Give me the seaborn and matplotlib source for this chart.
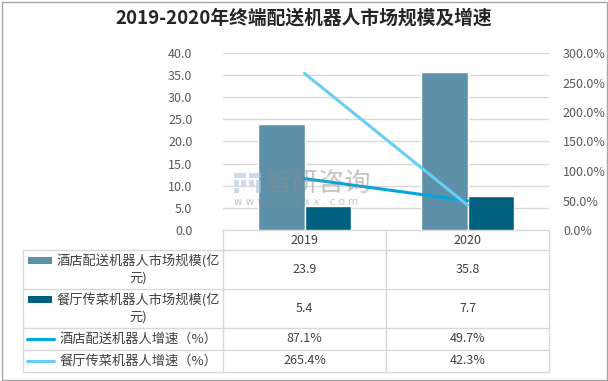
import numpy as np
import pandas as pd
import matplotlib
matplotlib.use("Agg")
import matplotlib.pyplot as plt
from matplotlib.patches import Rectangle
from matplotlib.lines import Line2D
import seaborn as sns

# data
years = ["2019", "2020"]
bar_names = ["酒店配送机器人市场规模(亿元)", "餐厅传菜机器人市场规模(亿元)"]
hotel_size = [23.9, 35.8]
restaurant_size = [5.4, 7.7]
line_names = ["酒店配送机器人增速（%）", "餐厅传菜机器人增速（%）"]
hotel_growth = [87.1, 49.7]
restaurant_growth = [265.4, 42.3]

bar_colors = ["#5E91A9", "#00607F"]
line_colors = ["#00A6E0", "#6ACDF4"]
grid_color = "#D9D9D9"
text_color = "#404040"
tick_color = "#595959"

sns.set_style("white")
plt.rcParams['font.family'] = ['Noto Sans CJK SC', 'DejaVu Sans']

W, H = 608, 381
fig = plt.figure(figsize=(W / 100, H / 100), dpi=100)

# plot area in pixels
left, right, top, bottom = 223, 549, 53, 230
ax = fig.add_axes([left / W, 1 - bottom / H, (right - left) / W, (bottom - top) / H])

df = pd.DataFrame({
    "year": years * 2,
    "series": [bar_names[0]] * 2 + [bar_names[1]] * 2,
    "value": hotel_size + restaurant_size,
})
sns.barplot(data=df, x="year", y="value", hue="series", palette=bar_colors,
            width=0.57, gap=0, saturation=1, legend=False, ax=ax, zorder=2)

ax.set_ylim(0, 40)
ax.set_yticks(np.arange(0, 40.1, 5))
ax.set_yticklabels([f"{v:.1f}" for v in np.arange(0, 40.1, 5)])
ax.set_xlim(-0.5, len(years) - 0.5)
ax.set_xticks([])
ax.set_xlabel("")
ax.set_ylabel("")
ax.grid(axis="y", color=grid_color, linewidth=1, zorder=0)
ax.set_axisbelow(True)
for s in ax.spines.values():
    s.set_visible(False)
ax.tick_params(axis="y", length=0, pad=22, labelsize=9, labelcolor=tick_color)

ax2 = ax.twinx()
x_pos = np.arange(len(years))
ax2.plot(x_pos, np.array(hotel_growth) / 100, color=line_colors[0], lw=2.2,
         solid_capstyle="round", zorder=3)
ax2.plot(x_pos, np.array(restaurant_growth) / 100, color=line_colors[1], lw=2.2,
         solid_capstyle="round", zorder=3)
ax2.set_ylim(0, 3.0)
ax2.set_yticks(np.arange(0, 3.01, 0.5))
ax2.set_yticklabels([f"{v * 100:.1f}%" for v in np.arange(0, 3.01, 0.5)])
for s in ax2.spines.values():
    s.set_visible(False)
ax2.tick_params(axis="y", length=0, pad=10, labelsize=9, labelcolor=tick_color)

# watermark (logo blocks + text)
for (bx, by, bw, bh) in [(234, 173, 12, 5), (234, 180, 5, 6), (241, 180, 5, 6),
                         (249, 173, 12, 5), (249, 180, 5, 6), (256, 180, 5, 13),
                         (234, 188, 5, 5)]:
    fig.add_artist(Rectangle((bx / W, 1 - (by + bh) / H), bw / W, bh / H,
                             transform=fig.transFigure, color="#A9C4E0",
                             alpha=0.6, lw=0, zorder=10))
fig.text(266 / W, 1 - 183 / H, "智研咨询", ha="left", va="center", fontsize=19,
         color="#8C8C8C", alpha=0.5, zorder=10)
fig.text(234 / W, 1 - 202 / H, "w w w . c h y x x . c o m", ha="left", va="center",
         fontsize=7.5, color="#8C8C8C", alpha=0.5, zorder=10, family="DejaVu Sans")

# data table drawn in pixel space
tab = fig.add_axes([0, 0, 1, 1], zorder=-1)
tab.set_xlim(0, W)
tab.set_ylim(H, 0)
tab.axis("off")

cols = [23, 223, 386, 549]
rows = [230, 250, 289, 328, 350, 372]

def hline(y, x0, x1):
    tab.add_line(Line2D([x0, x1], [y, y], color=grid_color, lw=1))

def vline(x, y0, y1):
    tab.add_line(Line2D([x, x], [y0, y1], color=grid_color, lw=1))

hline(rows[0], cols[1], cols[3])
for y in rows[1:]:
    hline(y, cols[0], cols[3])
vline(cols[0], rows[1], rows[-1])
for x in cols[1:]:
    vline(x, rows[0], rows[-1])

centers = [(cols[1] + cols[2]) / 2, (cols[2] + cols[3]) / 2]
for cx, yr in zip(centers, years):
    tab.text(cx, (rows[0] + rows[1]) / 2, yr, ha="center", va="center",
             fontsize=9, color=text_color)

label_lines = [
    ["酒店配送机器人市场规模(亿", "元)"],
    ["餐厅传菜机器人市场规模(亿", "元)"],
    ["酒店配送机器人增速（%）"],
    ["餐厅传菜机器人增速（%）"],
]
values = [hotel_size, restaurant_size, hotel_growth, restaurant_growth]
kinds = ["bar", "bar", "line", "line"]
colors = bar_colors + line_colors

for i in range(4):
    y0, y1 = rows[i + 1], rows[i + 2]
    yc = (y0 + y1) / 2
    lines = label_lines[i]
    if len(lines) == 2:
        ys = [yc - 9, yc + 9]
    else:
        ys = [yc]
    for t, yy in zip(lines, ys):
        tab.text(138, yy, t, ha="center", va="center", fontsize=9.5, color=text_color)
    if kinds[i] == "bar":
        tab.add_patch(Rectangle((28, ys[0] - 3.5), 24, 7, color=colors[i], lw=0))
    else:
        tab.add_line(Line2D([27, 54], [ys[0], ys[0]], color=colors[i], lw=2.2,
                            solid_capstyle="round"))
    for cx, v in zip(centers, values[i]):
        txt = f"{v:.1f}" if kinds[i] == "bar" else f"{v:.1f}%"
        tab.text(cx, yc, txt, ha="center", va="center", fontsize=9, color=text_color)

# title and frame
fig.text(304 / W, 1 - 18 / H, "2019-2020年终端配送机器人市场规模及增速",
         ha="center", va="center", fontsize=13.5, fontweight="bold", color="#262626")
fig.add_artist(Rectangle((1.5 / W, 1.5 / H), (W - 3) / W, (H - 3) / H,
                         transform=fig.transFigure, fill=False,
                         edgecolor="#A6A6A6", lw=1))

fig.savefig("out.png", dpi=100)
